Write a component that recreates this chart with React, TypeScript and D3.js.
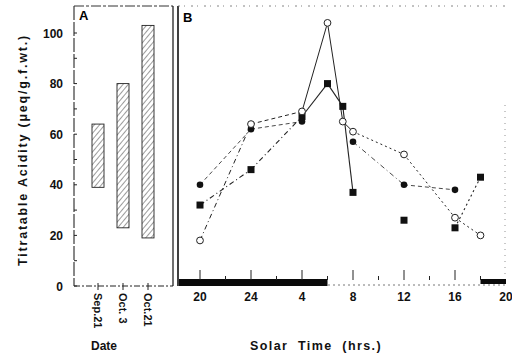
import React, { useRef, useEffect } from "react";
import * as d3 from "d3";

// panel A: seasonal range of acidity
const dates = ["Sep.21", "Oct. 3", "Oct.21"];
const rangeLow = [39, 23, 19];
const rangeHigh = [64, 80, 103];

// panel B: solar time in hours (24 = midnight, 28 = 4 a.m. ...)
const hours = [20, 24, 28, 30, 31.2, 32, 36, 40, 42];
const openCircle = [18, 64, 69, 104, 65, 61, 52, 27, 20];
const filledCircle = [40, 62, 65, null, null, 57, 40, 38, null];
const filledSquare = [32, 46, 67, 80, 71, 37, 26, 23, 43];

const hourTicks = [20, 24, 28, 32, 36, 40, 44];
const hourLabels = ["20", "24", "4", "8", "12", "16", "20"];
const yTicks = [0, 20, 40, 60, 80, 100];

// dash style of each segment (null = no line)
const openDash = ["5 3 1 3", "4 3", "", "", "", "2 3", "2 3", "2 3"];
const filledDash = ["4 3", "4 3", null, null, null, "5 3 1 3", "4 3", null];
const squareDash = ["5 3 1 3", "5 3 1 3", "", "", "", null, null, "2 3"];

const Chart = () => {
  const svgRef = useRef(null);

  useEffect(() => {
    const svg = d3.select(svgRef.current);
    svg.selectAll("*").remove();
    const font = "'Liberation Sans', Arial, sans-serif";

    const y = d3.scaleLinear().domain([0, 100]).range([286, 33]);
    const xDate = d3.scalePoint().domain(dates).range([98, 148]);
    const xHour = d3.scaleLinear().domain([20, 44]).range([200, 506]);

    const defs = svg.append("defs");
    const pat = defs.append("pattern")
      .attr("id", "hatch")
      .attr("patternUnits", "userSpaceOnUse")
      .attr("width", 4).attr("height", 4)
      .attr("patternTransform", "rotate(40)");
    pat.append("line").attr("x1", 0).attr("y1", 0).attr("x2", 0).attr("y2", 4)
      .attr("stroke", "#222").attr("stroke-width", 0.9);

    // ---- panel A frame
    svg.append("line").attr("x1", 74).attr("x2", 74).attr("y1", 6).attr("y2", 286)
      .attr("stroke", "#111").attr("stroke-width", 1).attr("stroke-dasharray", "14 2");
    svg.append("line").attr("x1", 74).attr("x2", 173).attr("y1", 6).attr("y2", 6)
      .attr("stroke", "#333").attr("stroke-width", 1).attr("stroke-dasharray", "10 2 3 2");
    svg.append("line").attr("x1", 74).attr("x2", 173).attr("y1", 286).attr("y2", 286)
      .attr("stroke", "#222").attr("stroke-width", 1).attr("stroke-dasharray", "6 2 2 2");
    svg.append("line").attr("x1", 173).attr("x2", 173).attr("y1", 6).attr("y2", 286)
      .attr("stroke", "#111").attr("stroke-width", 1.2);
    svg.append("line").attr("x1", 178).attr("x2", 178).attr("y1", 6).attr("y2", 286)
      .attr("stroke", "#111").attr("stroke-width", 1.6);

    // y ticks and labels
    svg.selectAll(".ytick").data(d3.range(0, 101, 10)).enter().append("line")
      .attr("x1", 74).attr("x2", 77)
      .attr("y1", d => y(d)).attr("y2", d => y(d))
      .attr("stroke", "#222").attr("stroke-width", 1);
    svg.selectAll(".ylab").data(yTicks).enter().append("text")
      .attr("x", 63).attr("y", d => y(d) + 4.5)
      .attr("text-anchor", "end")
      .attr("font-family", font).attr("font-size", 12).attr("font-weight", "bold")
      .attr("fill", "#111")
      .text(d => d);

    svg.append("text")
      .attr("transform", "translate(27,150) rotate(-90)")
      .attr("text-anchor", "middle")
      .attr("font-family", font).attr("font-size", 12.5).attr("font-weight", "bold")
      .attr("letter-spacing", 1.8)
      .attr("fill", "#111")
      .text("Titratable  Acidity (\u03bceq/g.f.wt.)");

    // bars
    svg.selectAll(".bar").data(dates).enter().append("rect")
      .attr("x", d => xDate(d) - 6)
      .attr("width", 12)
      .attr("y", (d, i) => y(rangeHigh[i]))
      .attr("height", (d, i) => y(rangeLow[i]) - y(rangeHigh[i]))
      .attr("fill", "url(#hatch)")
      .attr("stroke", "#222").attr("stroke-width", 0.9);

    svg.selectAll(".dtick").data(dates).enter().append("line")
      .attr("x1", d => xDate(d)).attr("x2", d => xDate(d))
      .attr("y1", 283).attr("y2", 290)
      .attr("stroke", "#222").attr("stroke-width", 1);
    svg.selectAll(".dlab").data(dates).enter().append("text")
      .attr("transform", d => `translate(${xDate(d) - 4},293) rotate(90)`)
      .attr("font-family", font).attr("font-size", 11).attr("font-weight", "bold")
      .attr("fill", "#111")
      .text(d => d);

    svg.append("text").attr("x", 104).attr("y", 350)
      .attr("text-anchor", "middle")
      .attr("font-family", font).attr("font-size", 12).attr("font-weight", "bold")
      .attr("fill", "#111")
      .text("Date");

    svg.append("text").attr("x", 79).attr("y", 20)
      .attr("font-family", font).attr("font-size", 13).attr("font-weight", "bold")
      .text("A");
    svg.append("text").attr("x", 183).attr("y", 22)
      .attr("font-family", font).attr("font-size", 13).attr("font-weight", "bold")
      .text("B");

    // ---- panel B frame
    svg.append("line").attr("x1", 178).attr("x2", 505).attr("y1", 6).attr("y2", 6)
      .attr("stroke", "#666").attr("stroke-width", 0.8).attr("stroke-dasharray", "2 4 1 6");
    svg.append("line").attr("x1", 505).attr("x2", 505).attr("y1", 105).attr("y2", 275)
      .attr("stroke", "#777").attr("stroke-width", 0.8).attr("stroke-dasharray", "1 5");
    svg.append("line").attr("x1", 178).attr("x2", 505).attr("y1", 285).attr("y2", 285)
      .attr("stroke", "#555").attr("stroke-width", 0.8).attr("stroke-dasharray", "2 3");
    // dark period bars
    svg.append("rect").attr("x", 179).attr("y", 279)
      .attr("width", xHour(30) - 179).attr("height", 7).attr("fill", "#0a0a0a");
    svg.append("rect").attr("x", xHour(42)).attr("y", 279)
      .attr("width", 506 - xHour(42)).attr("height", 5).attr("fill", "#0a0a0a");

    svg.selectAll(".htick").data(d3.range(20, 44, 2)).enter().append("line")
      .attr("x1", d => xHour(d)).attr("x2", d => xHour(d))
      .attr("y1", d => (d % 4 === 0 ? 270 : 276)).attr("y2", 280)
      .attr("stroke", "#222").attr("stroke-width", 1);
    svg.selectAll(".hlab").data(hourTicks).enter().append("text")
      .attr("x", (d, i) => xHour(d)).attr("y", 301)
      .attr("text-anchor", "middle")
      .attr("font-family", font).attr("font-size", 12).attr("font-weight", "bold")
      .attr("fill", "#111")
      .text((d, i) => hourLabels[i]);

    svg.append("text").attr("x", 316).attr("y", 350)
      .attr("text-anchor", "middle")
      .attr("font-family", font).attr("font-size", 12.5).attr("font-weight", "bold")
      .attr("letter-spacing", 1.4)
      .attr("fill", "#111")
      .attr("xml:space", "preserve")
      .style("white-space", "pre")
      .text("Solar  Time  (hrs.)");

    // series segments
    const drawSegs = (vals, dashes, width) => {
      for (let i = 0; i < hours.length - 1; i++) {
        const a = vals[i];
        const b = vals[i + 1];
        const dash = dashes[i];
        if (a == null || b == null || dash == null) continue;
        svg.append("line")
          .attr("x1", xHour(hours[i])).attr("y1", y(a))
          .attr("x2", xHour(hours[i + 1])).attr("y2", y(b))
          .attr("stroke", "#222").attr("stroke-width", width)
          .attr("stroke-dasharray", dash || null);
      }
    };
    // filled circle 4 -> 8 jumps over the gap
    const fcIdx = filledCircle.map((v, i) => i).filter(i => filledCircle[i] != null);
    for (let k = 0; k < fcIdx.length - 1; k++) {
      const i = fcIdx[k], j = fcIdx[k + 1];
      const dash = filledDash[i] || filledDash[j - 1];
      if (dash == null) continue;
      svg.append("line")
        .attr("x1", xHour(hours[i])).attr("y1", y(filledCircle[i]))
        .attr("x2", xHour(hours[j])).attr("y2", y(filledCircle[j]))
        .attr("stroke", "#333").attr("stroke-width", 0.9)
        .attr("stroke-dasharray", dash);
    }
    drawSegs(openCircle, openDash, 1);
    drawSegs(filledSquare, squareDash, 1.1);

    svg.selectAll(".sq").data(hours).enter().append("rect")
      .attr("x", d => xHour(d) - 3.5)
      .attr("y", (d, i) => y(filledSquare[i]) - 3.5)
      .attr("width", 7).attr("height", 7)
      .attr("fill", "#111");
    svg.selectAll(".fc").data(fcIdx).enter().append("circle")
      .attr("cx", i => xHour(hours[i]))
      .attr("cy", i => y(filledCircle[i]))
      .attr("r", 3.3)
      .attr("fill", "#111");
    svg.selectAll(".oc").data(hours).enter().append("circle")
      .attr("cx", d => xHour(d))
      .attr("cy", (d, i) => y(openCircle[i]))
      .attr("r", 3.4)
      .attr("fill", "#fff")
      .attr("stroke", "#222").attr("stroke-width", 1);
  }, []);

  return <svg ref={svgRef} width={512} height={354} style={{ display: "block" }}></svg>;
};

export default function App() {
  useEffect(() => {
    document.body.style.margin = "0";
  }, []);
  return <Chart />;
}
